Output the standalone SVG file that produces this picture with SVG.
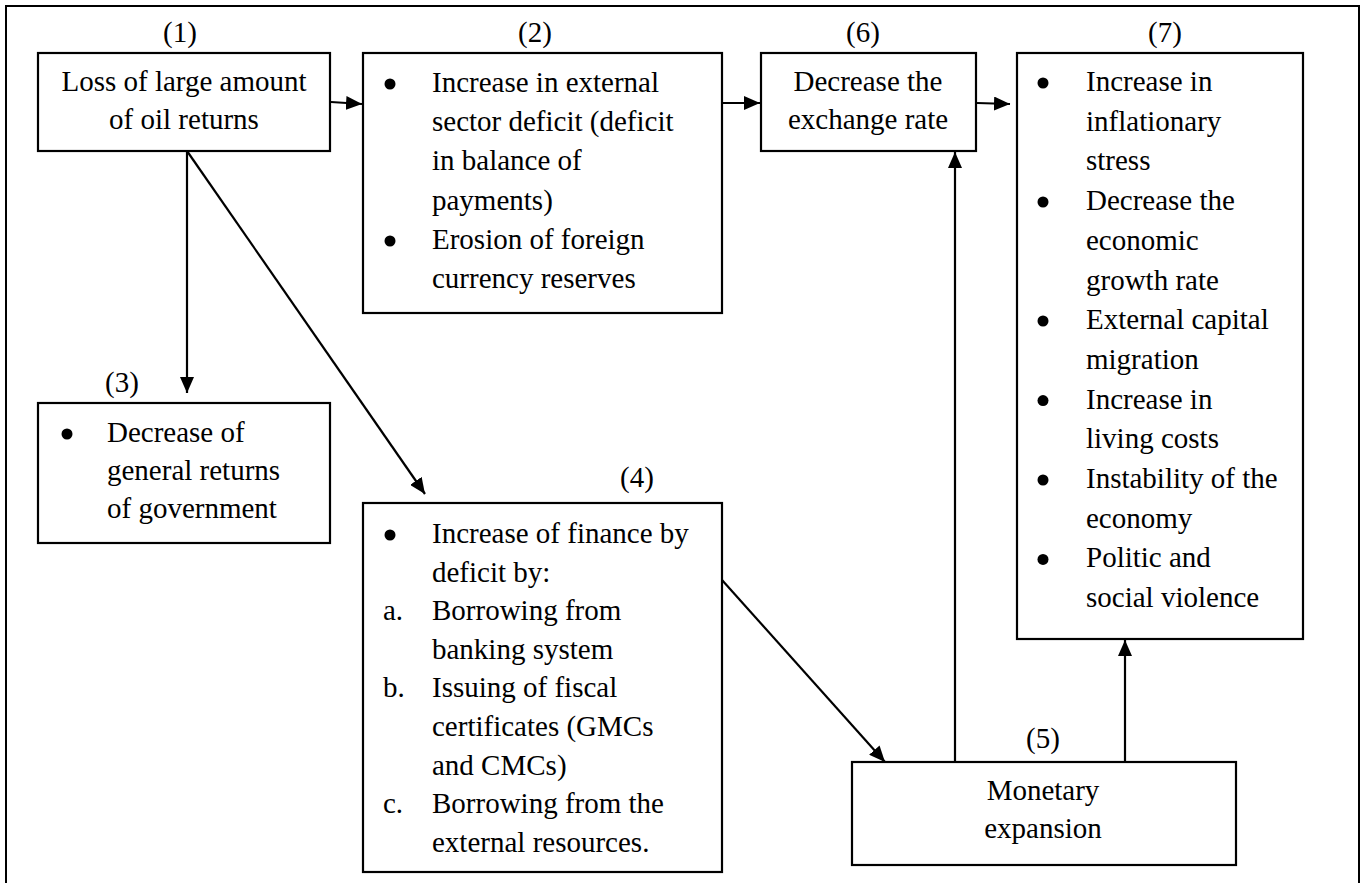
<svg xmlns="http://www.w3.org/2000/svg" width="1364" height="883" viewBox="0 0 1364 883">
<style>
  text { font-family: 'Liberation Serif', serif; font-size: 29px; fill: #000; }
  .c { text-anchor: middle; }
  .box { fill: #fff; stroke: #000; stroke-width: 2.2; }
  .frame { fill: none; stroke: #000; stroke-width: 2; }
  .conn { stroke: #000; stroke-width: 2.2; fill: none; marker-end: url(#arr); }
  .dot { fill: #000; }
</style>
<defs>
  <marker id="arr" markerUnits="userSpaceOnUse" markerWidth="17" markerHeight="14" refX="16" refY="7" orient="auto">
    <path d="M0,0 L16,7 L0,14 z" fill="#000"/>
  </marker>
</defs>
<rect width="1364" height="883" fill="#fff"/>
<path class="frame" d="M6,885 V6 H1359 V885"/>

<g id="connectors">
  <line class="conn" x1="331" y1="102" x2="362" y2="104"/>
  <line class="conn" x1="723" y1="103" x2="760" y2="103"/>
  <line class="conn" x1="977" y1="103" x2="1010" y2="104"/>
  <line class="conn" x1="187" y1="151" x2="187" y2="393"/>
  <line class="conn" x1="187" y1="151" x2="425" y2="494"/>
  <line class="conn" x1="722" y1="580" x2="885" y2="762"/>
  <line class="conn" x1="955" y1="762" x2="955" y2="152"/>
  <line class="conn" x1="1125" y1="762" x2="1125" y2="640"/>
</g>

<g font-family="Liberation Serif, serif">
<g id="node1">
  <text class="c" x="180" y="42">(1)</text>
  <rect class="box" x="38" y="53" width="292" height="98"/>
  <text class="c" x="184" y="91">Loss of large amount</text>
  <text class="c" x="184" y="129">of oil returns</text>
</g>

<g id="node2">
  <text class="c" x="535" y="42">(2)</text>
  <rect class="box" x="363" y="53" width="359" height="260"/>
  <circle class="dot" cx="390" cy="84" r="5.5"/>
  <text x="432" y="92">Increase in external</text>
  <text x="432" y="131">sector deficit (deficit</text>
  <text x="432" y="170">in balance of</text>
  <text x="432" y="210">payments)</text>
  <circle class="dot" cx="390" cy="241" r="5.5"/>
  <text x="432" y="249">Erosion of foreign</text>
  <text x="432" y="288">currency reserves</text>
</g>

<g id="node6">
  <text class="c" x="863" y="42">(6)</text>
  <rect class="box" x="761" y="53" width="215" height="98"/>
  <text class="c" x="868" y="91">Decrease the</text>
  <text class="c" x="868" y="129">exchange rate</text>
</g>

<g id="node7">
  <text class="c" x="1165" y="42">(7)</text>
  <rect class="box" x="1017" y="53" width="286" height="586"/>
  <circle class="dot" cx="1043" cy="83" r="5.5"/>
  <text x="1086" y="91">Increase in</text>
  <text x="1086" y="130.7">inflationary</text>
  <text x="1086" y="170.4">stress</text>
  <circle class="dot" cx="1043" cy="202" r="5.5"/>
  <text x="1086" y="210.1">Decrease the</text>
  <text x="1086" y="249.8">economic</text>
  <text x="1086" y="289.5">growth rate</text>
  <circle class="dot" cx="1043" cy="321" r="5.5"/>
  <text x="1086" y="329.2">External capital</text>
  <text x="1086" y="368.9">migration</text>
  <circle class="dot" cx="1043" cy="400.6" r="5.5"/>
  <text x="1086" y="408.6">Increase in</text>
  <text x="1086" y="448.3">living costs</text>
  <circle class="dot" cx="1043" cy="480" r="5.5"/>
  <text x="1086" y="488">Instability of the</text>
  <text x="1086" y="527.7">economy</text>
  <circle class="dot" cx="1043" cy="559.4" r="5.5"/>
  <text x="1086" y="567.4">Politic and</text>
  <text x="1086" y="607.1">social violence</text>
</g>

<g id="node3">
  <text class="c" x="122" y="392">(3)</text>
  <rect class="box" x="38" y="403" width="292" height="140"/>
  <circle class="dot" cx="67" cy="434" r="5.5"/>
  <text x="107" y="442">Decrease of</text>
  <text x="107" y="480">general returns</text>
  <text x="107" y="518">of government</text>
</g>

<g id="node4">
  <text class="c" x="637" y="487">(4)</text>
  <rect class="box" x="363" y="503" width="359" height="369"/>
  <circle class="dot" cx="390" cy="535" r="5.5"/>
  <text x="432" y="543">Increase of finance by</text>
  <text x="432" y="581.6">deficit by:</text>
  <text x="383" y="620.2">a.</text>
  <text x="432" y="620.2">Borrowing from</text>
  <text x="432" y="658.8">banking system</text>
  <text x="383" y="697.4">b.</text>
  <text x="432" y="697.4">Issuing of fiscal</text>
  <text x="432" y="736">certificates (GMCs</text>
  <text x="432" y="774.6">and CMCs)</text>
  <text x="383" y="813.2">c.</text>
  <text x="432" y="813.2">Borrowing from the</text>
  <text x="432" y="851.8">external resources.</text>
</g>

<g id="node5">
  <text class="c" x="1043" y="748">(5)</text>
  <rect class="box" x="852" y="762" width="384" height="103"/>
  <text class="c" x="1043" y="800">Monetary</text>
  <text class="c" x="1043" y="838">expansion</text>
</g>
</g>
</svg>
